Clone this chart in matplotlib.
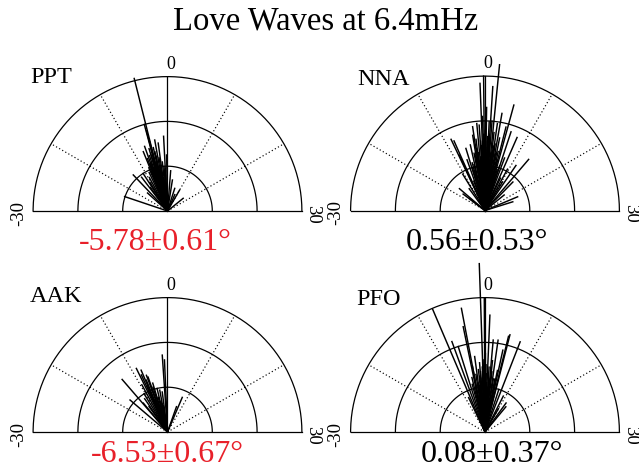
import numpy as np
import matplotlib
matplotlib.use("Agg")
import matplotlib.pyplot as plt

plt.rcParams['font.family'] = ['Liberation Serif', 'DejaVu Serif']

# station names and the polarization angle estimate for each
stations = ['PPT', 'NNA', 'AAK', 'PFO']
estimates = ['-5.78±0.61°', '0.56±0.53°', '-6.53±0.67°', '0.08±0.37°']
est_colors = ['#e8202a', 'black', '#e8202a', 'black']

# individual measurements: angle (deg) and amplitude (outer ring = 3)
ppt_ang = [-4.7, -5.0, -4.9, -3.4, -2.6, -0.3, -7.4, -6.5, -4.8, -5.5, -6.0, -4.0,
           -3.0, -2.0, -1.5, -5.2, -6.8, -7.8, -8.5, -9.5, -4.5, -3.7, -2.8, -1.0,
           -6.2, -5.8, -10.5, -12.0, -14.5, -23.8, -16.0, -11.0, 10.0, 17.0, 5.9,
           3.0, 1.5, 8.0, -0.5, -7.0, -5.4, -4.2, -3.2, -6.6, -1.0, -12.5,
           -5.1, -4.4, -3.9, -6.3, -2.2, -7.2]
ppt_len = [3.05, 2.0, 1.85, 1.61, 1.53, 1.25, 1.43, 1.53, 1.6, 1.45, 1.3, 1.35,
           1.2, 1.1, 1.0, 1.2, 1.1, 1.05, 0.95, 0.85, 1.1, 0.95, 0.9, 0.8,
           0.9, 1.0, 0.75, 0.65, 1.11, 1.01, 0.6, 1.0, 0.54, 0.45, 0.53,
           0.7, 0.9, 0.4, 0.6, 1.25, 1.3, 1.45, 1.0, 0.8, 1.67, 0.95,
           1.15, 1.05, 1.25, 1.15, 0.75, 0.95]

nna_ang = [1.9, -0.2, -0.75, 1.2, 5.1, 3.3, -8.5, -8.0, -2.8, 7.9, 13.5, 22.4,
           24.2, -17.7, -1.3, 0.9, 2.7, 4.7, 6.1, -3.1, -5.7, -8.3, 11.5, 14.8,
           -16.5, -17.5, 0.3, -0.5, 1.5, -1.8, 2.2, -2.4, 3.8, -4.2, 0.0, 0.6,
           -1.0, 1.0, 2.9, -3.6, 4.2, -6.5, 6.8, -5.0, 9.5, -10.5, 0.4, -0.9,
           1.7, -2.0, 3.1, -1.5, 2.0, -4.8, 5.5, 8.5, -7.0, 10.5, -12.0, 17.0,
           -0.3, 0.7, -1.2, 1.3, -2.6, 2.5, -3.3, 3.5, -0.6, 0.2, -1.6, 1.8,
           -4.5, 4.5, -2.2, 2.4, -5.5, 6.0, -0.1, 1.1]
nna_len = [3.27, 3.0, 2.84, 2.77, 2.44, 2.2, 1.76, 1.7, 1.89, 1.78, 1.5, 0.79,
           0.65, 0.61, 1.91, 1.98, 1.96, 1.92, 1.85, 1.7, 1.45, 1.36, 1.22, 0.89,
           0.75, 0.44, 2.3, 2.1, 2.0, 1.95, 1.75, 1.6, 1.65, 1.5, 1.8, 1.55,
           1.45, 1.4, 1.5, 1.3, 1.35, 1.2, 1.25, 1.1, 1.05, 0.95, 1.2, 1.15,
           1.1, 1.0, 0.95, 0.9, 0.85, 0.9, 0.95, 0.8, 0.7, 0.75, 0.6, 0.55,
           1.7, 1.65, 1.55, 1.6, 1.4, 1.45, 1.25, 1.3, 1.35, 1.4, 1.2, 1.25,
           1.05, 1.15, 1.3, 1.35, 1.0, 1.05, 1.6, 1.7]

aak_ang = [-1.3, -0.8, -13.6, -8.7, -7.7, -7.4, -5.6, -16.5, 7.7, -13.3, -6.5,
           -9.5, -4.5, -3.5, -10.5, -6.0, -8.0, -11.5, -5.0, -2.5, -7.0, -4.0,
           6.5, -12.0, -3.0, -8.2, -6.8]
aak_len = [1.72, 1.61, 1.55, 1.58, 1.5, 1.25, 1.14, 1.1, 0.84, 0.84, 1.3,
           1.2, 1.0, 0.95, 1.0, 1.05, 1.1, 0.9, 0.8, 0.9, 0.75, 0.7,
           0.6, 0.7, 0.6, 1.4, 1.35]

pfo_ang = [-0.65, -0.1, -7.7, -3.6, -3.9, 4.8, 4.6, 7.1, 0.8, -6.7, 2.7, 13.2,
           12.0, -2.6, -0.5, -5.8, 4.1, 1.7, -1.5, 0.3, -2.0, 1.2, -3.0, 2.2,
           -4.5, 3.5, -1.0, 0.6, -2.3, 1.6, -5.0, 6.0, -0.2, 9.0, -8.5, -1.2,
           0.9, -3.3, 2.5, 10.0, -0.8, 0.4, -1.8, 1.4, -2.8, 3.0, -4.0, 0.1,
           -1.4, 2.0, -3.6, 3.8]
pfo_len = [3.76, 2.99, 2.98, 2.81, 2.4, 2.24, 2.2, 2.16, 2.61, 2.15, 2.07, 0.73,
           0.8, 1.7, 1.61, 2.0, 1.87, 2.06, 1.55, 1.5, 1.4, 1.45, 1.3, 1.35,
           1.25, 1.2, 1.2, 1.1, 1.05, 1.0, 1.1, 1.0, 0.95, 0.9, 0.85, 0.8,
           0.85, 0.75, 0.7, 0.6, 1.45, 1.3, 1.25, 1.15, 1.1, 1.2, 1.0, 1.75,
           1.35, 1.6, 1.5, 1.4]

angles = [ppt_ang, nna_ang, aak_ang, pfo_ang]
lengths = [ppt_len, nna_len, aak_len, pfo_len]

W, H = 639, 469
fig = plt.figure(figsize=(W / 100, H / 100), dpi=100)
fig.text(325.5 / W, 1 - 21 / H, 'Love Waves at 6.4mHz', ha='center', va='center',
         fontsize=23.5)

# panel centres in pixels, pixels per unit radius
centres = [(167.5, 211), (485, 210.5), (167.5, 432), (485, 432)]
ppu = 44.8
xl, xr, yb, yt = -3.6, 3.6, -0.8, 3.9
name_pos = [(-3.07, 2.86), (-2.86, 2.80), (-3.08, 2.91), (-2.88, 2.83)]
est_pos = [(-0.28, -0.87), (-0.17, -0.88), (0.0, -0.68), (0.15, -0.68)]

scale = 3.0  # angular exaggeration: +-30 deg fills the half circle
th = np.linspace(0, np.pi, 200)

for i in range(4):
    cx, cy = centres[i]
    left = cx + xl * ppu
    top = cy - yt * ppu
    ax = fig.add_axes([left / W, 1 - (top + (yt - yb) * ppu) / H,
                       (xr - xl) * ppu / W, (yt - yb) * ppu / H])
    ax.set_xlim(xl, xr)
    ax.set_ylim(yb, yt)
    ax.axis('off')

    # rings and baseline
    for r in [1, 2, 3]:
        ax.plot(r * np.cos(th), r * np.sin(th), color='black', lw=0.9)
    ax.plot([-3, 3], [0, 0], color='black', lw=0.9)
    ax.plot([0, 0], [0, 3], color='black', lw=0.9)
    for a in [-20, -10, 10, 20]:
        p = np.radians(a * scale)
        ax.plot([0, 3 * np.sin(p)], [0, 3 * np.cos(p)], color='black', lw=0.85,
                ls=(0, (1, 2)))

    # measurements
    phi = np.radians(np.array(angles[i]) * scale)
    rr = np.array(lengths[i])
    for p, r in zip(phi, rr):
        ax.plot([0, r * np.sin(p)], [0, r * np.cos(p)], color='black', lw=1.05,
                clip_on=False)

    ax.text(-0.03, 3.18, '0', ha='left', va='baseline', fontsize=13)
    ax.text(-3.33, -0.05, '-30', ha='center', va='center', rotation=90,
            fontsize=13.5)
    ax.text(3.24, -0.07, '30', ha='center', va='center', rotation=-90,
            fontsize=13.5)
    ax.text(name_pos[i][0], name_pos[i][1], stations[i], ha='left',
            va='baseline', fontsize=17.5)
    ax.text(est_pos[i][0], est_pos[i][1], estimates[i], ha='center',
            va='baseline', fontsize=23, color=est_colors[i])

fig.savefig('out.png', dpi=100)
